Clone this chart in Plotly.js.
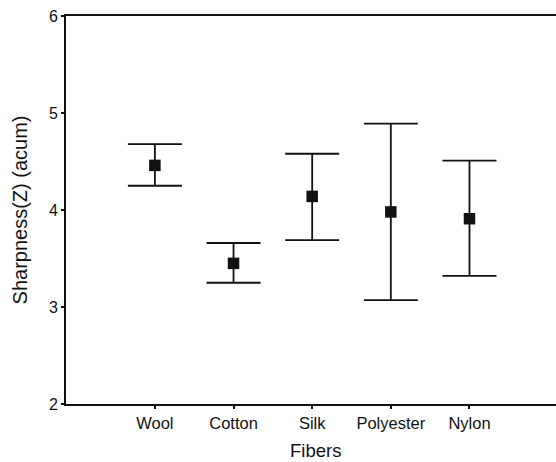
<!DOCTYPE html>
<html>
<head>
<meta charset="utf-8">
<script src="https://cdn.plot.ly/plotly-3.0.1.min.js"></script>
<style>html,body{margin:0;padding:0;background:#fff;}#chart{width:556px;height:462px;}</style>
</head>
<body>
<div id="chart"></div>
<script>
const fibers = ["Wool", "Cotton", "Silk", "Polyester", "Nylon"];
const meanValues = [4.46, 3.45, 4.14, 3.98, 3.91];
const upperValues = [4.68, 3.66, 4.58, 4.89, 4.51];
const lowerValues = [4.25, 3.25, 3.69, 3.07, 3.32];
const yTickValues = [2, 3, 4, 5, 6];
const xTitle = "Fibers";
const yTitle = "Sharpness(Z) (acum)";

const plus = meanValues.map((m, i) => upperValues[i] - m);
const minus = meanValues.map((m, i) => m - lowerValues[i]);

const trace = {
  type: "scatter",
  mode: "markers",
  x: fibers,
  y: meanValues,
  marker: {symbol: "square", size: 11.5, color: "#111"},
  error_y: {
    type: "data",
    symmetric: false,
    array: plus,
    arrayminus: minus,
    width: 27,
    thickness: 1.8,
    color: "#111"
  },
  hoverinfo: "skip"
};

const layout = {
  width: 556,
  height: 462,
  margin: {l: 66, r: 0, t: 16, b: 58},
  paper_bgcolor: "#fff",
  plot_bgcolor: "#fff",
  showlegend: false,
  font: {family: "Liberation Sans, Arial, sans-serif", color: "#111"},
  xaxis: {
    type: "category",
    range: [-1.13, 5.1],
    showgrid: false,
    zeroline: false,
    showline: true,
    linecolor: "#111",
    linewidth: 2,
    mirror: true,
    ticks: "outside",
    ticklen: 3,
    tickwidth: 2,
    tickcolor: "#111",
    tickfont: {size: 16.5, color: "#111"}
  },
  yaxis: {
    range: [2, 6],
    tickvals: yTickValues,
    showgrid: false,
    zeroline: false,
    showline: true,
    linecolor: "#111",
    linewidth: 2,
    ticks: "outside",
    ticklen: 3,
    tickwidth: 2,
    tickcolor: "#111",
    tickfont: {size: 16, color: "#111"},
    title: {text: yTitle, font: {size: 20, color: "#111"}, standoff: 16}
  },
  annotations: [{
    text: xTitle,
    xref: "paper", yref: "paper",
    x: 0.5, y: 0,
    xshift: 4, yshift: -46,
    xanchor: "center", yanchor: "middle",
    borderpad: 0,
    showarrow: false,
    font: {size: 18.5, color: "#111"}
  }]
};

Plotly.newPlot("chart", [trace], layout, {displayModeBar: false, staticPlot: true});
</script>
</body>
</html>
